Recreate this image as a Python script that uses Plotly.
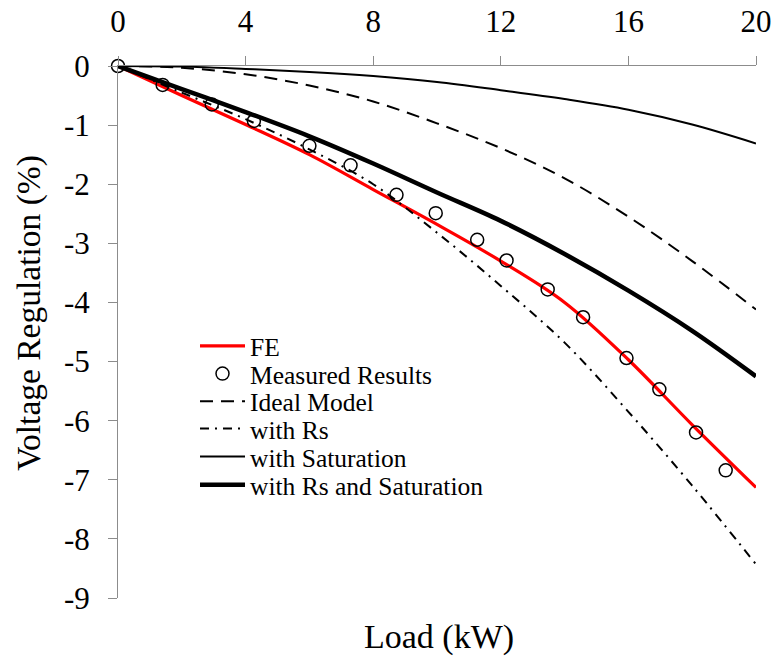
import plotly.graph_objects as go

# ---- data ----
load_curve = [0, 2, 4, 6, 8, 10, 12, 14, 16, 18, 20]
fe_vals = [0, -0.50, -0.99, -1.50, -2.09, -2.68, -3.30, -4.00, -4.97, -6.07, -7.13]
ideal_vals = [0, -0.03, -0.14, -0.33, -0.60, -0.97, -1.39, -1.90, -2.55, -3.30, -4.12]
rs_vals = [0, -0.45, -0.90, -1.41, -2.00, -2.82, -3.72, -4.68, -5.85, -7.10, -8.43]
sat_vals = [0, -0.01, -0.05, -0.10, -0.17, -0.27, -0.41, -0.56, -0.74, -0.99, -1.31]
rs_sat_vals = [0, -0.39, -0.78, -1.19, -1.65, -2.14, -2.62, -3.18, -3.80, -4.48, -5.25]

meas_load = [0, 1.4, 2.94, 4.26, 6.0, 7.29, 8.73, 9.96, 11.26, 12.18, 13.47, 14.58, 15.94, 16.97, 18.12, 19.05]
meas_vals = [0, -0.32, -0.65, -0.93, -1.35, -1.68, -2.18, -2.49, -2.94, -3.29, -3.78, -4.25, -4.94, -5.47, -6.20, -6.84]

x_ticks = [0, 4, 8, 12, 16, 20]
y_ticks = [0, -1, -2, -3, -4, -5, -6, -7, -8, -9]
y_tick_labels = ["0", "-1", "-2", "-3", "-4", "-5", "-6", "-7", "-8", "-9"]

FONT = "Liberation Serif, Times New Roman, serif"
AXC = "#8c8c8c"

fig = go.Figure()
fig.add_trace(go.Scatter(x=load_curve, y=fe_vals, mode="lines", name="FE", legend="legend",
                         line=dict(color="#ff0000", width=3.2, shape="spline"), cliponaxis=False))
fig.add_trace(go.Scatter(x=meas_load, y=meas_vals, mode="markers", name="Measured Results", legend="legend2",
                         marker=dict(symbol="circle-open", size=13, color="black",
                                     line=dict(width=1.5, color="black")), cliponaxis=False))
fig.add_trace(go.Scatter(x=load_curve, y=ideal_vals, mode="lines", name="Ideal Model", legend="legend3",
                         line=dict(color="black", width=2, dash="13px,8px", shape="spline"), cliponaxis=False))
fig.add_trace(go.Scatter(x=load_curve, y=rs_vals, mode="lines", name="with Rs", legend="legend4",
                         line=dict(color="black", width=2, dash="9px,6px,2px,6px", shape="spline"), cliponaxis=False))
fig.add_trace(go.Scatter(x=load_curve, y=sat_vals, mode="lines", name="with Saturation", legend="legend5",
                         line=dict(color="black", width=2, shape="spline"), cliponaxis=False))
fig.add_trace(go.Scatter(x=load_curve, y=rs_sat_vals, mode="lines", name="with Rs and Saturation", legend="legend6",
                         line=dict(color="black", width=4.5, shape="spline"), cliponaxis=False))

# one legend per row so row spacing matches the reference
row_px = [346.3, 374.0, 401.7, 429.0, 457.0, 485.3]
plot_top, plot_bot = 66, 598
legend_common = dict(x=0.1207, xanchor="left", yanchor="middle", itemwidth=45,
                     font=dict(family=FONT, size=25.5, color="black"),
                     bgcolor="rgba(0,0,0,0)", borderwidth=0)
legends = {}
for i, py in enumerate(row_px):
    key = "legend" if i == 0 else f"legend{i + 1}"
    legends[key] = dict(legend_common, y=(plot_bot - py) / (plot_bot - plot_top))

fig.update_layout(
    width=774, height=657,
    margin=dict(l=118, r=18, t=66, b=59, autoexpand=False),
    paper_bgcolor="white", plot_bgcolor="white",
    font=dict(family=FONT, color="black", size=31),
    showlegend=True,
    xaxis=dict(range=[0, 20], side="top", tickvals=x_ticks, ticks="outside", ticklen=9,
               tickcolor=AXC, tickwidth=1, showline=True, linecolor=AXC, linewidth=1,
               showgrid=False, zeroline=False, tickfont=dict(family=FONT, size=31),
               ticklabelstandoff=12, automargin=False),
    yaxis=dict(range=[-9, 0], tickvals=y_ticks, ticktext=y_tick_labels, ticks="outside", ticklen=9,
               tickcolor=AXC, tickwidth=1, showline=True, linecolor=AXC, linewidth=1,
               showgrid=False, zeroline=False, tickfont=dict(family=FONT, size=31),
               ticklabelstandoff=12, automargin=False),
    annotations=[
        dict(text="Voltage Regulation (%)", xref="paper", yref="paper", x=-0.1395, y=0.536,
             textangle=-90, showarrow=False, font=dict(family=FONT, size=33.5),
             xanchor="center", yanchor="middle"),
        dict(text="Load (kW)", xref="paper", yref="paper", x=0.503, y=-0.074,
             showarrow=False, font=dict(family=FONT, size=34),
             xanchor="center", yanchor="middle"),
    ],
    **legends,
)

fig.write_html("out.html")
